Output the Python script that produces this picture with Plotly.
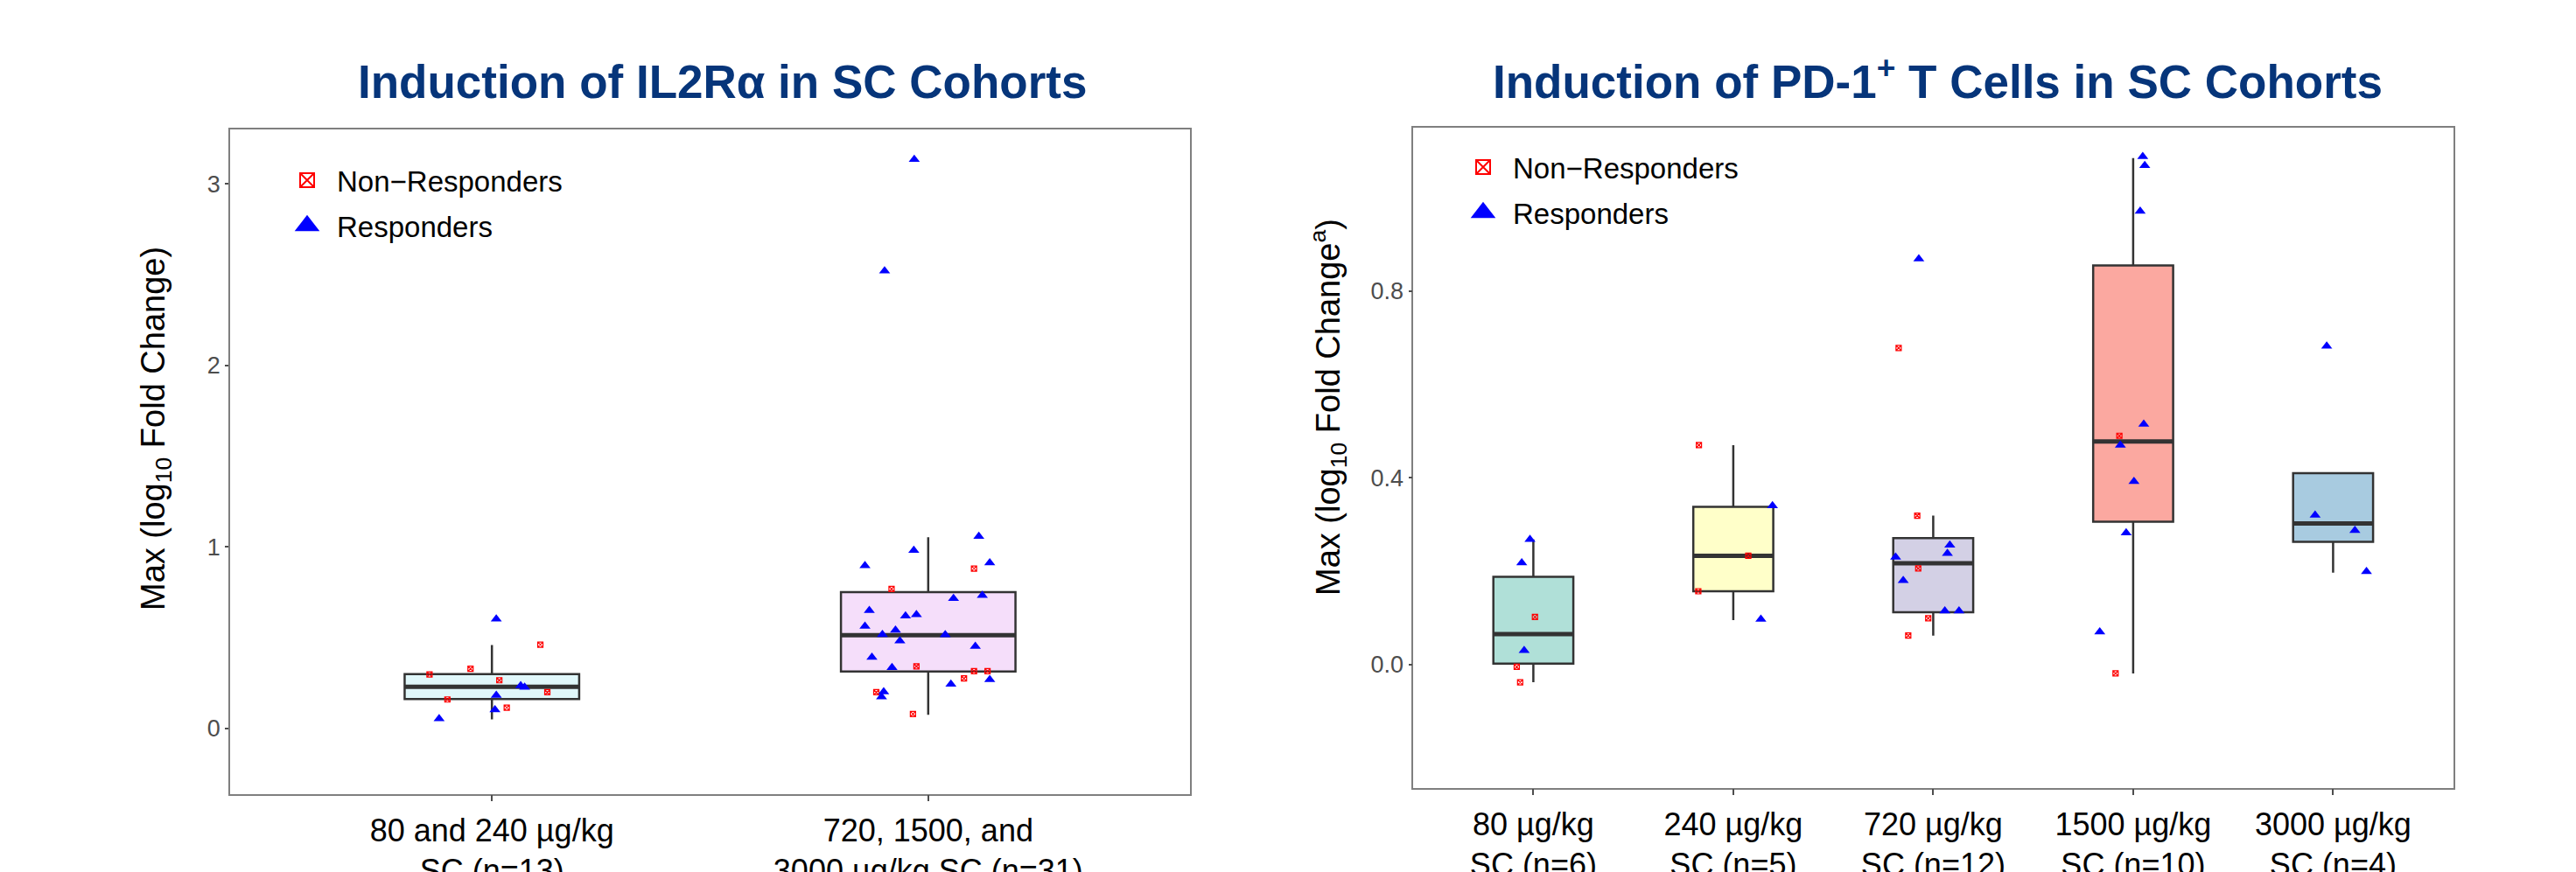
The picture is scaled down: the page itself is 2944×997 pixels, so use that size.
import plotly.graph_objects as go

FONT = "Liberation Sans, Arial, Helvetica, sans-serif"

# ---------------- Left panel data: IL2Rα ----------------
left_categories = ["80 and 240 µg/kg<br>SC (n=13)", "720, 1500, and<br>3000 µg/kg SC (n=31)"]
left_fill = ["#E0F7FA", "#F5DEFA"]
left_q1 = [0.162, 0.314]
left_median = [0.230, 0.514]
left_q3 = [0.300, 0.751]
left_lower = [0.050, 0.076]
left_upper = [0.460, 1.054]

left_resp_group = [0, 0, 0, 0, 0, 0,
                   1, 1, 1, 1, 1, 1, 1, 1, 1, 1, 1, 1, 1, 1, 1, 1, 1, 1, 1, 1, 1, 1, 1]
left_resp_jitter = [0.010, 0.066, 0.075, 0.010, 0.007, -0.121,
                    -0.032, -0.100, 0.116, -0.033, -0.145, 0.141, 0.058, 0.124, -0.135, -0.052,
                    -0.027, -0.145, -0.075, -0.105, 0.039, -0.065, 0.108, -0.129, -0.083, 0.052,
                    0.141, -0.102, -0.107]
left_resp_value = [0.603, 0.236, 0.228, 0.183, 0.103, 0.054,
                   3.135, 2.521, 1.058, 0.981, 0.897, 0.913, 0.716, 0.733, 0.650, 0.620,
                   0.627, 0.563, 0.542, 0.518, 0.517, 0.483, 0.453, 0.393, 0.336, 0.244,
                   0.270, 0.202, 0.175]

left_non_group = [0, 0, 0, 0, 0, 0, 0, 1, 1, 1, 1, 1, 1, 1, 1]
left_non_jitter = [0.111, -0.049, -0.143, 0.017, 0.127, -0.102, 0.034,
                   0.105, -0.084, -0.027, 0.105, 0.136, 0.082, -0.119, -0.035]
left_non_value = [0.462, 0.329, 0.298, 0.266, 0.200, 0.160, 0.115,
                  0.881, 0.769, 0.343, 0.316, 0.316, 0.276, 0.200, 0.080]

# ---------------- Right panel data: PD-1+ T cells ----------------
right_categories = ["80 µg/kg<br>SC (n=6)", "240 µg/kg<br>SC (n=5)", "720 µg/kg<br>SC (n=12)",
                    "1500 µg/kg<br>SC (n=10)", "3000 µg/kg<br>SC (n=4)"]
right_fill = ["#B0E0D8", "#FFFFC9", "#D3D0E5", "#FBA8A0", "#A8CBE0"]
right_q1 = [0.002, 0.157, 0.112, 0.306, 0.263]
right_median = [0.065, 0.233, 0.217, 0.478, 0.302]
right_q3 = [0.188, 0.338, 0.271, 0.855, 0.410]
right_lower = [-0.038, 0.095, 0.062, -0.019, 0.197]
right_upper = [0.268, 0.470, 0.319, 1.085, 0.410]

right_resp_group = [0, 0, 0, 1, 1, 2, 2, 2, 2, 2, 2, 2,
                    3, 3, 3, 3, 3, 3, 3, 3, 4, 4, 4, 4]
right_resp_jitter = [-0.017, -0.058, -0.046, 0.196, 0.138,
                     -0.072, 0.083, 0.071, -0.188, -0.150, 0.058, 0.129,
                     0.048, 0.058, 0.035, 0.053, -0.064, 0.004, -0.035, -0.167,
                     -0.032, -0.090, 0.109, 0.167]
right_resp_value = [0.268, 0.218, 0.030, 0.340, 0.097,
                    0.869, 0.256, 0.238, 0.230, 0.180, 0.115, 0.115,
                    1.088, 1.069, 0.971, 0.515, 0.470, 0.392, 0.282, 0.070,
                    0.682, 0.320, 0.287, 0.199]

right_non_group = [0, 0, 0, 1, 1, 1, 2, 2, 2, 2, 2, 3, 3]
right_non_jitter = [0.008, -0.083, -0.066, -0.172, 0.075, -0.175,
                    -0.173, -0.080, -0.075, -0.025, -0.125, -0.069, -0.088]
right_non_value = [0.102, -0.005, -0.038, 0.470, 0.233, 0.157,
                   0.678, 0.319, 0.206, 0.099, 0.062, 0.490, -0.019]

BOX_WIDTH = 0.4
BOX_LINE = "#333333"
RED = "#FF0000"
BLUE = "#0000FF"

W, H = 2944, 997
OFF = 8  # default page body margin offsets the figure by 8 px


def px(x):
    return (x - OFF) / W


def py(y):
    return 1 - (y - OFF) / H


fig = go.Figure()


def add_panel(xa, ya, cats, fills, q1, med, q3, lo, hi,
              rg, rj, rv, ng, nj, nv, legend_name):
    for i in range(len(cats)):
        fig.add_trace(go.Box(
            x=[i], q1=[q1[i]], median=[med[i]], q3=[q3[i]],
            lowerfence=[lo[i]], upperfence=[hi[i]],
            width=BOX_WIDTH, whiskerwidth=0, fillcolor=fills[i],
            line=dict(color=BOX_LINE, width=2.5), boxpoints=False,
            hoverinfo="skip", showlegend=False, xaxis=xa, yaxis=ya))
        # thicker median bar, like ggplot's fatten
        fig.add_trace(go.Scatter(
            x=[i - BOX_WIDTH / 2, i + BOX_WIDTH / 2], y=[med[i], med[i]],
            mode="lines", line=dict(color=BOX_LINE, width=5),
            hoverinfo="skip", showlegend=False, xaxis=xa, yaxis=ya))
    fig.add_trace(go.Scatter(
        x=[g + j for g, j in zip(ng, nj)], y=nv, mode="markers",
        marker=dict(symbol="square-x-open", size=6, color=RED, line=dict(width=1.2, color=RED)),
        showlegend=False, xaxis=xa, yaxis=ya))
    fig.add_trace(go.Scatter(
        x=[g + j for g, j in zip(rg, rj)], y=rv, mode="markers",
        marker=dict(symbol="triangle-up", size=11, color=BLUE),
        showlegend=False, xaxis=xa, yaxis=ya))
    # legend entries
    fig.add_trace(go.Scatter(
        x=[None], y=[None], mode="markers", name="Non\u2212Responders",
        marker=dict(symbol="square-x-open", size=16, color=RED, line=dict(width=2, color=RED)),
        legend=legend_name, legendgroup=legend_name + "a", xaxis=xa, yaxis=ya))
    fig.add_trace(go.Scatter(
        x=[None], y=[None], mode="markers", name="Responders",
        marker=dict(symbol="triangle-up", size=16, color=BLUE, line=dict(width=5, color=BLUE)),
        legend=legend_name, legendgroup=legend_name + "b", xaxis=xa, yaxis=ya))


add_panel("x", "y", left_categories, left_fill, left_q1, left_median, left_q3,
          left_lower, left_upper, left_resp_group, left_resp_jitter, left_resp_value,
          left_non_group, left_non_jitter, left_non_value, "legend")
add_panel("x2", "y2", right_categories, right_fill, right_q1, right_median, right_q3,
          right_lower, right_upper, right_resp_group, right_resp_jitter, right_resp_value,
          right_non_group, right_non_jitter, right_non_value, "legend2")

axis_common = dict(showline=True, linecolor="#7F7F7F", linewidth=1.5, mirror=True,
                   showgrid=False, zeroline=False, ticks="outside",
                   tickcolor="#4D4D4D", tickwidth=1.5, automargin=False)

fig.update_layout(
    width=W, height=H, margin=dict(l=0, r=0, t=0, b=0),
    paper_bgcolor="white", plot_bgcolor="white",
    font=dict(family=FONT, color="black"),
    xaxis=dict(domain=[px(263), px(1360)], range=[-0.6, 1.6], ticklen=7,
               tickvals=list(range(len(left_categories))), ticktext=left_categories,
               tickfont=dict(size=36, color="black"), ticklabelstandoff=2, **axis_common),
    yaxis=dict(domain=[py(907.7), py(148)], range=[-0.36, 3.30], ticklen=4,
               tickvals=[0, 1, 2, 3], tickfont=dict(size=27, color="#4D4D4D"), **axis_common),
    xaxis2=dict(domain=[px(1615.3), px(2803.5)], range=[-0.6, 4.6], anchor="y2", ticklen=7,
                tickvals=list(range(len(right_categories))), ticktext=right_categories,
                tickfont=dict(size=36, color="black"), ticklabelstandoff=2, **axis_common),
    yaxis2=dict(domain=[py(900.7), py(146)], range=[-0.264, 1.15], anchor="x2", ticklen=4,
                tickvals=[0.0, 0.4, 0.8], tickformat=".1f",
                tickfont=dict(size=27, color="#4D4D4D"), **axis_common),
    legend=dict(x=px(317), y=py(178), xanchor="left", yanchor="top",
                font=dict(size=33, color="black", family=FONT), bgcolor="rgba(0,0,0,0)",
                tracegroupgap=6, itemwidth=58),
    legend2=dict(x=px(1661), y=py(163), xanchor="left", yanchor="top",
                 font=dict(size=33, color="black", family=FONT), bgcolor="rgba(0,0,0,0)",
                 tracegroupgap=6, itemwidth=58),
    annotations=[
        dict(text="<b>Induction of IL2R\u03b1 in SC Cohorts</b>", x=px(825), y=py(94),
             xref="paper", yref="paper", showarrow=False, xanchor="center", yanchor="middle",
             font=dict(size=53, color="#06357A", family=FONT)),
        dict(text="<b>Induction of PD-1<sup>+</sup> T Cells in SC Cohorts</b>", x=px(2214),
             y=py(89), xref="paper", yref="paper", showarrow=False, xanchor="center",
             yanchor="middle", font=dict(size=53, color="#06357A", family=FONT)),
        dict(text="Max (log<sub>10</sub> Fold Change)", x=px(178), y=py(490),
             xref="paper", yref="paper", showarrow=False, textangle=-90,
             xanchor="center", yanchor="middle", font=dict(size=38, color="black", family=FONT)),
        dict(text="Max (log<sub>10</sub> Fold Change<sup>a</sup>)", x=px(1518), y=py(466),
             xref="paper", yref="paper", showarrow=False, textangle=-90,
             xanchor="center", yanchor="middle", font=dict(size=38, color="black", family=FONT)),
    ],
)

fig.write_html("out.html")
